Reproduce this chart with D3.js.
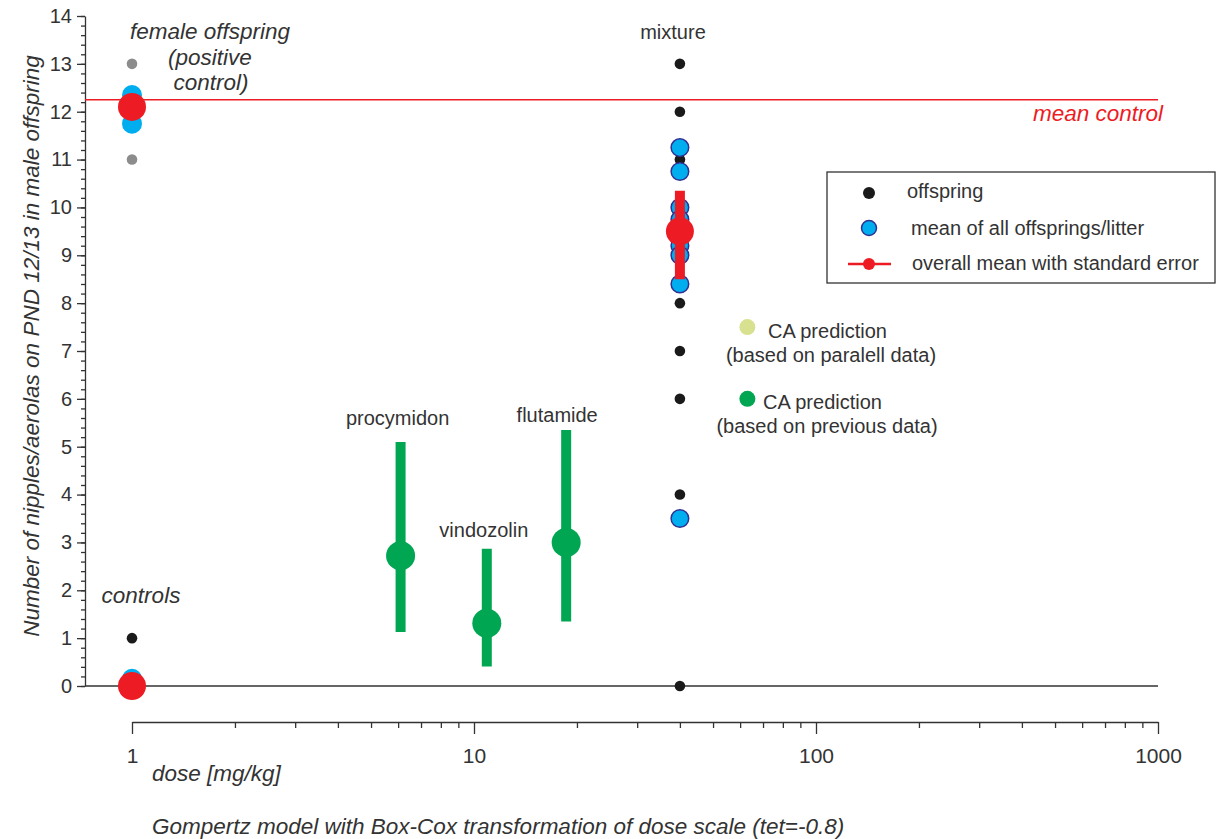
<!DOCTYPE html>
<html>
<head>
<meta charset="utf-8">
<script src="https://cdn.jsdelivr.net/npm/d3@7"></script>
<style>
  html, body { margin: 0; padding: 0; background: #fff; }
  svg { display: block; font-family: "Liberation Sans", Arial, sans-serif; }
  .axis path, .axis line { stroke: #333; stroke-width: 1.3; }
  .axis text { fill: #333; font-family: "Liberation Sans", Arial, sans-serif; }
  .yaxis text { font-size: 20px; }
  .xaxis text { font-size: 21px; }
</style>
</head>
<body>
<svg id="chart" width="1217" height="839"></svg>
<script>
// ---- data -------------------------------------------------------------
const yTicks = d3.range(0, 15);
const xTickLabels = [1, 10, 100, 1000];

// female offspring (positive control), dose plotted at 1
const femaleDose = 1;
const femaleOffspring = [13, 12, 11];
const femaleLitterMeans = [12.35, 12.1, 11.75];
const femaleMean = 12.1;

// untreated controls, dose plotted at 1
const controlDose = 1;
const controlOffspring = [1, 0];
const controlLitterMeans = [0.15, 0];
const controlMean = 0;

// mixture group
const mixtureDose = 40;
const mixtureOffspring = [13, 12, 11, 10, 9, 8, 7, 6, 4, 0];
const mixtureLitterMeans = [11.25, 10.75, 10.0, 9.75, 9.2, 9.0, 8.4, 3.5];
const mixtureMean = 9.5;
const mixtureSE = [8.5, 10.35];

// horizontal reference level
const meanControl = 12.25;

// single compounds (Gompertz fit with confidence range)
const compounds = ["procymidon", "vindozolin", "flutamide"];
const compoundDose = [6.1, 10.9, 18.6];
const compoundValue = [2.72, 1.31, 3.0];
const compoundLow = [1.13, 0.41, 1.35];
const compoundHigh = [5.1, 2.87, 5.35];

// concentration addition predictions for the mixture
const caDose = 63;
const caParallel = 7.5;
const caPrevious = 6.0;

// ---- colours / type -----------------------------------------------------
const RED = "#ed1c24", BLUE = "#00aeef", BLUE_EDGE = "#2e3192",
      GREEN = "#00a651", LIGHT_GREEN = "#d7e18f", BLACK = "#1a1a1a",
      GREY = "#8c8c8c", TEXT = "#333";
const FS = 20;        // upright labels
const FS_IT = 22.5;   // italic titles

// ---- scales -----------------------------------------------------------
const svg = d3.select("#chart");
const x = d3.scaleLog().domain([1, 1000]).range([132, 1158]);
const y = d3.scaleLinear().domain([0, 14]).range([686, 16]);
const yAxisX = 85;
const xAxisY = 722;

// ---- y axis -------------------------------------------------------------
svg.append("g").attr("class", "axis")
  .attr("transform", `translate(${yAxisX},0)`)
  .call(d3.axisLeft(y).tickValues(d3.range(0, 14.001, 0.2)).tickSize(4).tickFormat(""))
  .call(g => g.select(".domain").remove());
svg.append("g").attr("class", "axis yaxis")
  .attr("transform", `translate(${yAxisX},0)`)
  .call(d3.axisLeft(y).tickValues(yTicks).tickSize(8).tickSizeOuter(0).tickPadding(5).tickFormat(d3.format("d")));

// zero line
svg.append("line")
  .attr("x1", yAxisX).attr("x2", x(1000))
  .attr("y1", y(0)).attr("y2", y(0))
  .attr("stroke", "#333").attr("stroke-width", 1.3);

// ---- x axis (log dose) --------------------------------------------------
const minorX = [];
[1, 10, 100].forEach(dec => { for (let k = 2; k <= 9; k++) minorX.push(dec * k); });
svg.append("g").attr("class", "axis")
  .attr("transform", `translate(0,${xAxisY})`)
  .call(d3.axisBottom(x).tickValues(minorX).tickSize(6).tickFormat(""))
  .call(g => g.select(".domain").remove());
svg.append("g").attr("class", "axis xaxis")
  .attr("transform", `translate(0,${xAxisY})`)
  .call(d3.axisBottom(x).tickValues(xTickLabels).tickSize(12).tickSizeOuter(0).tickPadding(14).tickFormat(d3.format("d")));

// ---- axis titles --------------------------------------------------------
svg.append("text")
  .attr("transform", `translate(31,346) rotate(-90)`)
  .attr("text-anchor", "middle").attr("dominant-baseline", "central")
  .attr("font-size", FS_IT).attr("font-style", "italic").attr("fill", TEXT)
  .text("Number of nipples/aerolas on PND 12/13 in male offspring");

svg.append("text")
  .attr("x", 152).attr("y", 773).attr("dominant-baseline", "central")
  .attr("font-size", FS_IT).attr("font-style", "italic").attr("fill", TEXT)
  .text("dose [mg/kg]");

svg.append("text")
  .attr("x", 152).attr("y", 826).attr("dominant-baseline", "central")
  .attr("font-size", FS_IT).attr("font-style", "italic").attr("fill", TEXT)
  .text("Gompertz model with Box-Cox transformation of dose scale (tet=-0.8)");

// ---- mean control reference line ----------------------------------------
svg.append("line")
  .attr("x1", yAxisX).attr("x2", x(1000))
  .attr("y1", y(meanControl)).attr("y2", y(meanControl))
  .attr("stroke", RED).attr("stroke-width", 1.5);
svg.append("text")
  .attr("x", 1163).attr("y", y(meanControl) + 14).attr("text-anchor", "end")
  .attr("dominant-baseline", "central")
  .attr("font-size", FS_IT).attr("font-style", "italic").attr("fill", RED)
  .text("mean control");

// ---- group markers --------------------------------------------------------
function offspringDots(dose, vals, color) {
  svg.append("g").selectAll("circle").data(vals).join("circle")
    .attr("cx", x(dose)).attr("cy", d => y(d)).attr("r", 5.3).attr("fill", color);
}
function litterDots(dose, vals) {
  svg.append("g").selectAll("circle").data(vals).join("circle")
    .attr("cx", x(dose)).attr("cy", d => y(d)).attr("r", 8.8)
    .attr("fill", BLUE).attr("stroke", BLUE_EDGE).attr("stroke-width", 1.5);
}
function meanDot(dose, v) {
  svg.append("circle").attr("cx", x(dose)).attr("cy", y(v)).attr("r", 14).attr("fill", RED);
}

// female offspring
offspringDots(femaleDose, femaleOffspring, GREY);
svg.append("g").selectAll("circle").data(femaleLitterMeans).join("circle")
  .attr("cx", x(femaleDose)).attr("cy", d => y(d)).attr("r", 10).attr("fill", BLUE);
meanDot(femaleDose, femaleMean);

// controls
offspringDots(controlDose, controlOffspring, BLACK);
svg.append("g").selectAll("circle").data(controlLitterMeans).join("circle")
  .attr("cx", x(controlDose)).attr("cy", d => y(d)).attr("r", 10).attr("fill", BLUE);
meanDot(controlDose, controlMean);

// mixture
offspringDots(mixtureDose, mixtureOffspring, BLACK);
litterDots(mixtureDose, mixtureLitterMeans);
svg.append("line")
  .attr("x1", x(mixtureDose)).attr("x2", x(mixtureDose))
  .attr("y1", y(mixtureSE[0])).attr("y2", y(mixtureSE[1]))
  .attr("stroke", RED).attr("stroke-width", 10);
meanDot(mixtureDose, mixtureMean);

// single compounds
const labelShift = { procymidon: [-3, -24], vindozolin: [-3, -19], flutamide: [-9, -15] };
const comp = compounds.map((name, i) => ({
  name, dose: compoundDose[i], v: compoundValue[i], lo: compoundLow[i], hi: compoundHigh[i]
}));
const cg = svg.append("g");
cg.selectAll("line").data(comp).join("line")
  .attr("x1", d => x(d.dose)).attr("x2", d => x(d.dose))
  .attr("y1", d => y(d.lo)).attr("y2", d => y(d.hi))
  .attr("stroke", GREEN).attr("stroke-width", 10);
cg.selectAll("circle").data(comp).join("circle")
  .attr("cx", d => x(d.dose)).attr("cy", d => y(d.v)).attr("r", 14.5).attr("fill", GREEN);
cg.selectAll("text").data(comp).join("text")
  .attr("x", d => x(d.dose) + labelShift[d.name][0])
  .attr("y", d => y(d.hi) + labelShift[d.name][1])
  .attr("text-anchor", "middle").attr("dominant-baseline", "central")
  .attr("font-size", FS).attr("fill", TEXT)
  .text(d => d.name);

// CA predictions
svg.append("circle").attr("cx", x(caDose)).attr("cy", y(caParallel)).attr("r", 8).attr("fill", LIGHT_GREEN);
svg.append("circle").attr("cx", x(caDose)).attr("cy", y(caPrevious)).attr("r", 8).attr("fill", GREEN);

function label(lines, opts) {
  lines.forEach(l => {
    svg.append("text").attr("x", l[0]).attr("y", l[1])
      .attr("text-anchor", opts.anchor || "middle").attr("dominant-baseline", "central")
      .attr("font-size", opts.size || FS).attr("font-style", opts.italic ? "italic" : "normal")
      .attr("fill", TEXT).text(l[2]);
  });
}
label([[768, 331, "CA prediction"]], { anchor: "start" });
label([[831, 355, "(based on paralell data)"]], {});
label([[763, 402, "CA prediction"]], { anchor: "start" });
label([[827, 426, "(based on previous data)"]], {});

// group titles
label([[210, 31, "female offspring"], [210, 57, "(positive"], [211, 82, "control)"]], { size: FS_IT, italic: true });
label([[141, 595, "controls"]], { size: FS_IT, italic: true });
label([[673, 32, "mixture"]], {});

// ---- legend -------------------------------------------------------------
const lg = svg.append("g");
lg.append("rect").attr("x", 827).attr("y", 172).attr("width", 388).attr("height", 111)
  .attr("fill", "none").attr("stroke", "#333").attr("stroke-width", 1.3);
lg.append("circle").attr("cx", 869).attr("cy", 193).attr("r", 6).attr("fill", BLACK);
lg.append("circle").attr("cx", 869).attr("cy", 228).attr("r", 7.5)
  .attr("fill", BLUE).attr("stroke", BLUE_EDGE).attr("stroke-width", 1.5);
lg.append("line").attr("x1", 848).attr("x2", 891).attr("y1", 264).attr("y2", 264)
  .attr("stroke", RED).attr("stroke-width", 2.5);
lg.append("circle").attr("cx", 869).attr("cy", 264).attr("r", 6).attr("fill", RED);
[["offspring", 907, 191], ["mean of all offsprings/litter", 911, 228], ["overall mean with standard error", 912, 263]]
  .forEach(t => lg.append("text").attr("x", t[1]).attr("y", t[2]).attr("dominant-baseline", "central")
    .attr("font-size", FS).attr("fill", TEXT).text(t[0]));
</script>
</body>
</html>
